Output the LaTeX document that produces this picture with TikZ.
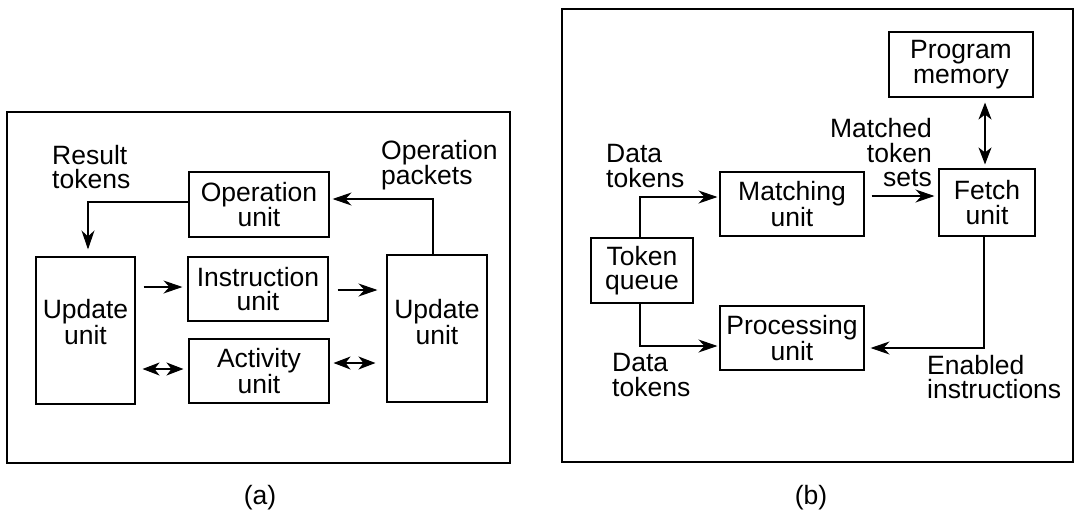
\documentclass[tikz,border=0pt]{standalone}
\usepackage{fontspec}
\setmainfont{Liberation Sans}
\usetikzlibrary{arrows.meta}
\newcommand\figfont{\fontsize{26.5}{24.5}\selectfont}
\begin{document}
\begin{tikzpicture}[x=1pt,y=-1pt,
  box/.style={draw, line width=1.1pt, inner sep=0pt, align=center, font=\figfont},
  txt/.style={inner sep=0pt, font=\figfont},
  frm/.style={draw, line width=2pt},
  conn/.style={line width=1.1pt},
  arr/.style={conn, -{Stealth[length=19pt,width=13pt,inset=6pt]}},
  darr/.style={conn, {Stealth[length=17pt,width=13pt,inset=5pt]}-{Stealth[length=17pt,width=13pt,inset=5pt]}}
]
\useasboundingbox (0,0) rectangle (1075,522);

% frames
\draw[frm] (7,112) rectangle (510,463);
\draw[frm] (562,9) rectangle (1073,462);

% ---------- (a) ----------
\node[box, minimum width=140, minimum height=65] (opu) at (259,204.5) {Operation\\unit};
\node[box, minimum width=99, minimum height=147] (upl) at (85.5,330.5) {};
\node[txt, align=center] (uplt) at (85.5,322) {Update\\unit};
\node[box, minimum width=140, minimum height=64] (ins) at (258,289) {Instruction\\unit};
\node[box, minimum width=140, minimum height=64] (act) at (259,371) {Activity\\unit};
\node[box, minimum width=100, minimum height=147] (upr) at (437,328.5) {};
\node[txt, align=center] (uprt) at (437,322) {Update\\unit};

\node[txt, align=left, anchor=west] (rt) at (52,167) {Result\\tokens};
\node[txt, align=left, anchor=west] (op) at (381,165) {Operation\\packets};

\draw[arr, shorten >=7pt] ([yshift=2.5]opu.west) -| ([xshift=2.5]upl.north);
\draw[arr, shorten >=3pt] ([xshift=-4]upr.north) |- ([yshift=5.5]opu.east);
\draw[arr, shorten <=8pt, shorten >=5pt] ([yshift=2]upl.east |- ins.west) -- ([yshift=2]ins.west);
\draw[arr, shorten <=9pt, shorten >=9pt] ([yshift=-1]ins.east) -- ([yshift=-1]upr.west |- ins.east);
\draw[darr, shorten <=7pt, shorten >=5pt] ([yshift=2]upl.east |- act.west) -- ([yshift=2]act.west);
\draw[darr, shorten <=4pt, shorten >=11pt] ([yshift=8]act.east) -- ([yshift=8]upr.west |- act.east);

\node[txt] (capa) at (260,498) {(a)};

% ---------- (b) ----------
\node[box, minimum width=144, minimum height=65] (pm) at (961,64.5) {Program\\memory};
\node[box, minimum width=96, minimum height=67] (fu) at (987,202.5) {Fetch\\unit};
\node[box, minimum width=144, minimum height=64] (mu) at (792,204) {Matching\\unit};
\node[box, minimum width=102, minimum height=65] (tq) at (642,270.5) {Token\\queue};
\node[box, minimum width=144, minimum height=64] (pu) at (792,338) {Processing\\unit};

\node[txt, align=left, anchor=west] (dt1) at (606,166) {Data\\tokens};
\node[txt, align=right, anchor=east] (mts) at (932,153) {Matched\\token\\sets};
\node[txt, align=left, anchor=west] (dt2) at (612,375) {Data\\tokens};
\node[txt, align=left, anchor=west] (ei) at (927,377) {Enabled\\instructions};

\draw[darr, shorten <=5pt, shorten >=4pt] ([xshift=-2]fu.north |- pm.south) -- ([xshift=-2]fu.north);
\draw[arr, shorten <=7pt, shorten >=4pt] ([yshift=8]mu.east) -- ([yshift=8]fu.west |- mu.east);
\draw[arr, shorten >=2pt] ([xshift=-2]tq.north) |- ([yshift=7]mu.west);
\draw[arr, shorten >=2pt] ([xshift=-2]tq.south) |- ([yshift=-8]pu.west);
\draw[arr, shorten >=6pt] ([xshift=-3]fu.south) |- ([yshift=-10]pu.east);

\node[txt] (capb) at (811,498) {(b)};
\end{tikzpicture}
\end{document}
